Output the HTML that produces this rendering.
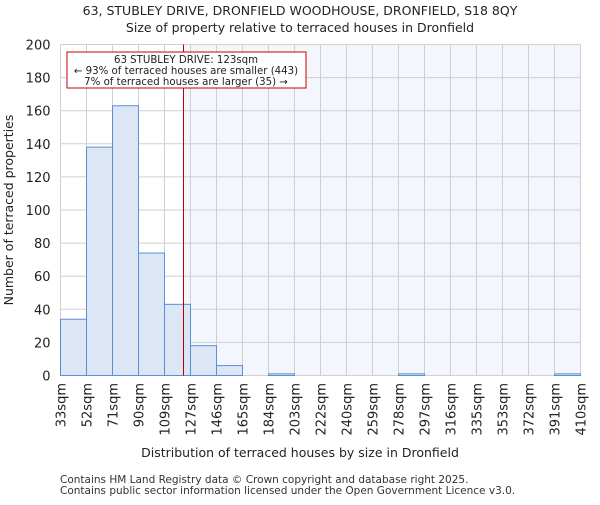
<!DOCTYPE html>
<html><head><meta charset="utf-8"><style>body{margin:0;background:#fff}svg{font-family:"DejaVu Sans","Liberation Sans",sans-serif}</style></head>
<body>
<svg id="chart" width="600" height="500" xmlns="http://www.w3.org/2000/svg">
<text x="300" y="15" text-anchor="middle" font-size="12.5" fill="#222">63, STUBLEY DRIVE, DRONFIELD WOODHOUSE, DRONFIELD, S18 8QY</text>
<text x="300" y="32" text-anchor="middle" font-size="12.5" fill="#222">Size of property relative to terraced houses in Dronfield</text>
<g id="plot"></g>
<text x="300" y="457" text-anchor="middle" font-size="12.5" fill="#222">Distribution of terraced houses by size in Dronfield</text>
<text transform="translate(13,210) rotate(-90)" text-anchor="middle" font-size="12.5" fill="#222">Number of terraced properties</text>
<text x="60" y="483" font-size="10.5" fill="#333">Contains HM Land Registry data © Crown copyright and database right 2025.</text>
<text x="60" y="494" font-size="10.5" fill="#333">Contains public sector information licensed under the Open Government Licence v3.0.</text>
</svg>
<script>
const binLabels=["33sqm","52sqm","71sqm","90sqm","109sqm","127sqm","146sqm","165sqm","184sqm","203sqm","222sqm","240sqm","259sqm","278sqm","297sqm","316sqm","335sqm","353sqm","372sqm","391sqm","410sqm"];
const binEdges=[33,52,71,90,109,127,146,165,184,203,222,240,259,278,297,316,335,353,372,391,410];
const counts=[34,138,163,74,43,18,6,0,1,0,0,0,0,1,0,0,0,0,0,1];
const yTicks=[0,20,40,60,80,100,120,140,160,180,200];
const marker=123;
const NS="http://www.w3.org/2000/svg";
const g=document.getElementById('plot');
const L=60.5,R=580.5,T=44.5,B=375.5;
const n=counts.length;
const xi=i=>L+(R-L)*i/n;
const xv=v=>{for(let i=0;i<n;i++){if(v<=binEdges[i+1])return xi(i)+(v-binEdges[i])/(binEdges[i+1]-binEdges[i])*(R-L)/n;}return R;};
const y=v=>B-(B-T)*v/200;
function mk(t,a){const e=document.createElementNS(NS,t);for(const k in a)e.setAttribute(k,a[k]);g.appendChild(e);return e;}
let e=mk('rect',{x:L,y:T,width:R-L,height:B-T,fill:'#fff'});


const mx=Math.round(xv(marker)-1.5)+0.5;
e=mk('rect',{x:mx,y:T,width:R-mx,height:B-T,fill:'#f4f6fd'});


for(let i=0;i<=n;i++){e=mk('line',{x1:xi(i),x2:xi(i),y1:T,y2:B,stroke:'#d0d0d0','stroke-width':1});

}
yTicks.forEach(t=>{e=mk('line',{x1:L,x2:R,y1:y(t),y2:y(t),stroke:'#d0d0d0','stroke-width':1});


e=mk('text',{x:L-10,y:y(t)+5,'text-anchor':'end','font-size':13,fill:'#222'});e.textContent=t;

});
counts.forEach((c,i)=>{if(c<=0)return;e=mk('rect',{x:xi(i),y:y(c),width:(R-L)/n,height:B-y(c),fill:'#dce6f4',stroke:'#5b8fd6','stroke-width':1});

});
binLabels.forEach((l,i)=>{e=mk('text',{transform:`translate(${xi(i)+5},383) rotate(-90)`,'text-anchor':'end','font-size':13,fill:'#222'});e.textContent=l;

});
e=mk('line',{x1:mx,x2:mx,y1:T,y2:B,stroke:'#b00','stroke-width':1});


e=mk('rect',{x:67,y:52,width:239,height:36,fill:'#fff',stroke:'#c00','stroke-width':1});


[["63 STUBLEY DRIVE: 123sqm",63],["← 93% of terraced houses are smaller (443)",74],["7% of terraced houses are larger (35) →",85]].forEach(a=>{e=mk('text',{x:186,y:a[1],'text-anchor':'middle','font-size':10.2,fill:'#222'});e.textContent=a[0];

});
</script>
</body></html>
